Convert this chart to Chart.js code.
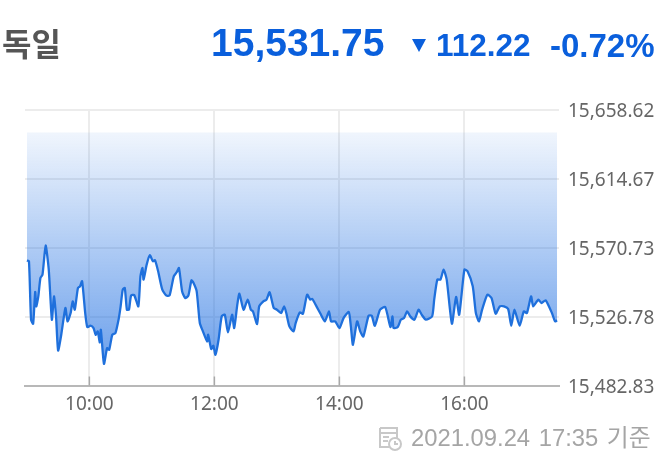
<!DOCTYPE html>
<html lang="ko">
<head>
<meta charset="utf-8">
<title>독일</title>
<script src="https://cdn.jsdelivr.net/npm/chart.js@4/dist/chart.umd.min.js"></script>
<style>
html,body{margin:0;padding:0;background:#fff;}
#wrap{position:relative;width:669px;height:469px;overflow:hidden;filter:blur(0.55px);}
#wrap canvas{position:absolute;left:0;top:0;}
.t{position:absolute;white-space:nowrap;line-height:1;}
.num{font-family:"Liberation Sans",Arial,sans-serif;font-weight:700;color:#0a5fdc;}
</style>
</head>
<body>
<div id="wrap">
  <canvas id="c" width="669" height="469"></canvas>
  <div class="t" style="left:2px;top:26px;font:700 32px 'Noto Sans CJK KR';line-height:1;color:#555;" id="title"></div>
  <div class="t num" style="left:211px;top:23px;font-size:39px;" id="price"></div>
  <svg style="position:absolute;left:411px;top:39px" width="16" height="13"><polygon points="1,0 15,0 8,13" fill="#0a5fdc"/></svg>
  <div class="t num" style="left:436px;top:30px;font-size:31.5px;" id="change"></div>
  <div class="t num" style="left:550px;top:29px;font-size:33px;" id="pct"></div>
  <svg style="position:absolute;left:378px;top:426px" width="26" height="25" fill="none" stroke="#c8c8c8" stroke-width="2">
    <path d="M2 2h17v11M2 2v19h9M2 7h17M5 11h6M5 15h5"/>
    <circle cx="17" cy="18" r="6"/><path d="M17 15v3h3"/>
  </svg>
  <div class="t" style="left:411px;top:426px;font:23.8px 'Liberation Sans','Noto Sans CJK KR',sans-serif;line-height:1;word-spacing:2px;color:#a5a5a5;" id="stamp"></div>
</div>
<script>
const titleText = "독일";
const priceText = "15,531.75";
const changeText = "112.22";
const pctText = "-0.72%";
const stampText = "2021.09.24 17:35 기준";

const minutes = [0,2,4,6,8,9,11,13,15,18,21,24,26,28,30,33,37,39,42,44,46,49,51,53,56,58,61,64,66,68,70,71,74,77,79,82,85,88,90,92,94,96,98,100,103,107,109,111,112,115,118,121,123,126,130,134,137,141,144,146,149,152,155,158,160,163,166,169,173,174,177,179,181,184,187,190,193,197,199,202,204,208,212,215,217,221,223,227,230,233,237,240,244,247,249,252,256,258,262,265,269,272,274,278,282,286,290,292,296,300,304,309,311,313,317,320,323,328,331,334,339,344,349,351,352,356,359,362,365,368,372,376,379,383,389,391,394,397,400,403,408,412,415,420,423,428,431,434,437,442,446,450,454,458,462,465,468,473,477,480,484,486,491,494,498,504,507,509];
const prices = [15562.52,15562.10,15524.81,15522.25,15542.49,15533.33,15539.72,15551.44,15553.57,15572.11,15556.77,15524.81,15539.72,15526.94,15505.20,15515.22,15532.26,15523.74,15529.07,15536.53,15531.20,15545.05,15546.11,15549.31,15529.07,15520.12,15520.97,15519.48,15515.22,15517.35,15510.32,15518.41,15496.68,15506.70,15505.63,15515.22,15516.28,15524.81,15533.33,15543.98,15545.05,15531.20,15531.20,15540.15,15540.58,15533.33,15552.51,15557.83,15550.38,15559.96,15565.93,15562.10,15562.74,15555.70,15543.98,15540.15,15540.36,15552.51,15555.28,15557.83,15542.92,15538.66,15540.15,15549.95,15548.25,15542.92,15522.68,15517.35,15510.96,15515.22,15506.06,15508.19,15502.43,15512.02,15526.94,15528.00,15516.71,15528.00,15519.48,15534.40,15541.43,15531.20,15537.59,15531.20,15530.13,15522.04,15533.33,15536.53,15537.59,15542.28,15532.26,15531.20,15529.07,15533.33,15529.07,15520.55,15517.35,15522.68,15529.49,15528.64,15540.79,15537.59,15538.02,15533.33,15528.43,15523.74,15530.13,15523.74,15523.74,15519.48,15525.87,15529.71,15520.55,15508.83,15523.74,15517.35,15514.15,15527.36,15527.36,15520.97,15531.20,15532.90,15520.12,15526.94,15519.48,15520.12,15524.81,15525.87,15530.13,15526.94,15524.81,15531.20,15528.00,15524.81,15526.94,15537.59,15550.38,15550.38,15556.77,15550.38,15522.25,15539.30,15528.00,15556.77,15555.70,15546.11,15529.07,15523.74,15531.20,15540.79,15538.66,15528.64,15533.33,15533.33,15531.63,15520.97,15531.20,15520.97,15530.13,15529.07,15539.72,15533.33,15537.59,15535.46,15537.17,15529.07,15523.74,15524.38];
const yTicks = [15482.83,15526.78,15570.73,15614.67,15658.62];
const xTicks = [60,180,300,420];
const xTickLabels = ["10:00","12:00","14:00","16:00"];
const fillCeiling = 15644.2;

document.getElementById('title').textContent = titleText;
document.getElementById('price').textContent = priceText;
document.getElementById('change').textContent = changeText;
document.getElementById('pct').textContent = pctText;
document.getElementById('stamp').textContent = stampText;

const tickFont = {family:"'Noto Sans'", size:19};
const innerTicks = {
  id:'innerTicks',
  afterDraw(chart){
    const {ctx, scales:{x}, chartArea:{bottom}} = chart;
    ctx.save();
    ctx.strokeStyle='#a8a8a8';
    ctx.lineWidth=1.5;
    xTicks.forEach(v=>{
      const p=x.getPixelForValue(v);
      ctx.beginPath();ctx.moveTo(p,bottom);ctx.lineTo(p,bottom-9);ctx.stroke();
    });
    ctx.restore();
  }
};
new Chart(document.getElementById('c'),{
  type:'line',
  data:{datasets:[{
    data:minutes.map((m,i)=>({x:m,y:prices[i]})),
    borderColor:'#1f70dc',
    borderWidth:2.3,
    borderJoinStyle:'round',
    pointRadius:0,
    tension:0.2,
    fill:{value:fillCeiling},
    backgroundColor(ctx){
      const c=ctx.chart;
      if(!c.chartArea) return 'rgba(30,110,225,0.3)';
      const y=c.scales.y;
      const g=c.ctx.createLinearGradient(0,y.getPixelForValue(fillCeiling),0,y.getPixelForValue(Math.min(...prices)));
      g.addColorStop(0,'rgba(30,110,225,0.065)');
      g.addColorStop(1,'rgba(30,110,225,0.65)');
      return g;
    }
  }]},
  options:{
    responsive:false,
    animation:false,
    events:[],
    layout:{padding:{left:25,top:110,right:0,bottom:0}},
    plugins:{legend:{display:false},tooltip:{enabled:false},title:{display:false}},
    scales:{
      x:{
        type:'linear',min:-1.8,max:510.8,
        afterBuildTicks(s){s.ticks=xTicks.map(v=>({value:v}));},
        afterFit(s){s.height=83.5;},
        grid:{color:'#ececec',lineWidth:2,drawTicks:false},
        border:{color:'#b8b8b8',width:2},
        ticks:{padding:8,maxRotation:0,autoSkip:false,color:'#666',font:tickFont,
          callback(v){return xTickLabels[xTicks.indexOf(v)];}}
      },
      y:{
        position:'right',min:yTicks[0],max:yTicks[yTicks.length-1],
        afterBuildTicks(s){s.ticks=yTicks.map(v=>({value:v}));},
        afterFit(s){s.width=110;},
        grid:{color:'#ececec',lineWidth:2,drawTicks:false},
        border:{display:false},
        ticks:{padding:9,labelOffset:2,autoSkip:false,color:'#666',font:tickFont,
          callback(v){return v.toLocaleString('en-US',{minimumFractionDigits:2,maximumFractionDigits:2});}}
      }
    }
  },
  plugins:[innerTicks]
});
</script>
</body>
</html>
